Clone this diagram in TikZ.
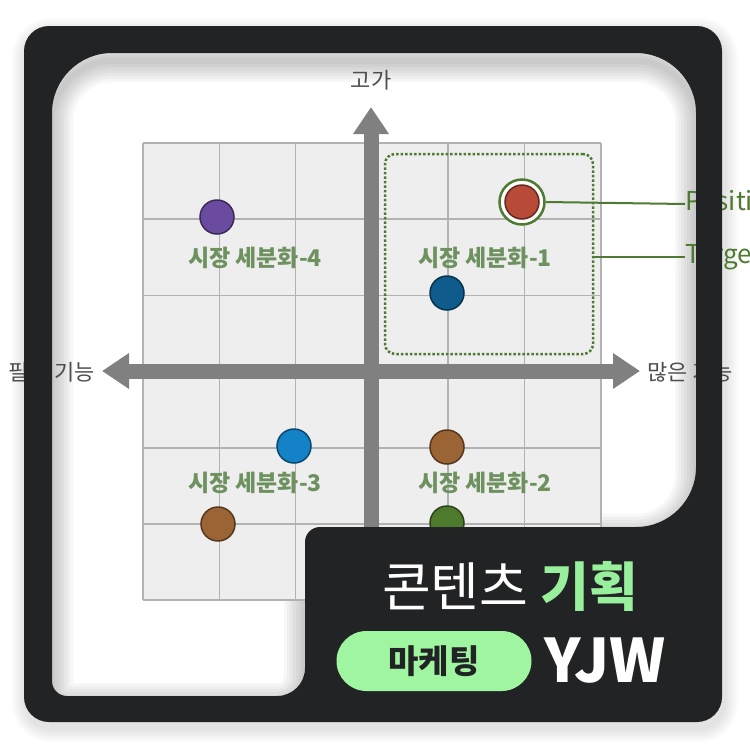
\documentclass[tikz,border=0pt]{standalone}
\usepackage{fontspec}
\newfontfamily\kr{Noto Sans CJK KR}
\usetikzlibrary{arrows.meta}
\usetikzlibrary{positioning}

\definecolor{framedark}{HTML}{222325}
\definecolor{axisgray}{HTML}{808080}
\definecolor{labelgray}{HTML}{4E4E4E}
\definecolor{gridfill}{HTML}{EEEEEE}
\definecolor{gridline}{HTML}{B2B2B2}
\definecolor{seggreen}{HTML}{6E9160}
\definecolor{linegreen}{HTML}{4F7A32}
\definecolor{pillgreen}{HTML}{A0F5A0}
\definecolor{accentgreen}{HTML}{98F09C}
\definecolor{segpurple}{HTML}{6B4BA0}
\definecolor{segred}{HTML}{B84A38}
\definecolor{segnavy}{HTML}{0F5C8C}
\definecolor{segblue}{HTML}{1482C6}
\definecolor{segbrown}{HTML}{9A6434}
\definecolor{segolive}{HTML}{4E7A2E}

% white inside of the card, with the notch for the title badge
\newcommand\cardhole{(52,300) [rounded corners=60pt] -- (52,53) -- (696,53) -- (696,527)
  [rounded corners=15pt] -- (305,527) [rounded corners=28pt] -- (305,696)
  [rounded corners=15pt] -- (52,696) [rounded corners=60pt] -- cycle}

\begin{document}
\begin{tikzpicture}[x=1pt,y=-1pt,
    axis/.style={draw=axisgray,line width=15pt,>={Triangle[width=34pt,length=27pt]}},
    segdot/.style={circle,minimum size=34pt,inner sep=0pt,fill=#1,draw=#1!55!black,line width=1.5pt},
    seglabel/.style={text=seggreen,inner sep=0pt,font=\kr\bfseries\fontsize{23}{23}\selectfont},
    axislabel/.style={text=labelgray,inner sep=0pt,font=\kr\fontsize{22}{22}\selectfont},
    callout/.style={text=linegreen,inner sep=0pt,anchor=west,font=\kr\fontsize{26}{26}\selectfont}]
  \useasboundingbox (0,0) rectangle (750,750);
  \fill[white] (0,0) rectangle (750,750);

  % soft shadow of the card
  \foreach \s in {2,4,...,14}
    \fill[black,opacity=0.015,rounded corners=25pt+\s pt] (24-\s+2,26-\s+6) rectangle (722+\s+2,722+\s+6);
  \fill[white] \cardhole;
  \begin{scope}
    \clip \cardhole;
    \foreach \w in {6,12,...,42}
      \draw[black,opacity=0.03,line width=\w pt,yshift=-8pt] \cardhole;
  \end{scope}

  % grid
  \fill[gridfill] (143,143) rectangle (601,600);
  \foreach \k in {0,...,6} {
    \draw[gridline,line width=1.5pt] (143+76.3*\k,143) -- (143+76.3*\k,600);
    \draw[gridline,line width=1.5pt] (143,143+76.2*\k) -- (601,143+76.2*\k);
  }

  % axes
  \coordinate (up) at (371,107);
  \coordinate (down) at (371,600);
  \coordinate (west) at (102,371);
  \coordinate (east) at (640,371);
  \draw[axis,->] (down) -- (up);
  \draw[axis,<->] (west) -- (east);
  \node[axislabel] (high) at (371,80) {고가};
  \node[axislabel,anchor=east] (few) at (95,372) {필수 기능};
  \node[axislabel,anchor=west] (many) at (647,372) {많은 기능};

  % target segment
  \node[draw=linegreen,dotted,line width=2.5pt,rounded corners=10pt,
        minimum width=208pt,minimum height=200pt] (target) at (489,254) {};

  % segments
  \node[seglabel] (seg1) at (485,258) {시장 세분화-1};
  \node[seglabel] (seg2) at (485,483) {시장 세분화-2};
  \node[seglabel] (seg3) at (255,483) {시장 세분화-3};
  \node[seglabel] (seg4) at (255,258) {시장 세분화-4};

  \node[segdot=segpurple] (p4) at (217,217) {};
  \node[circle,minimum size=45pt,inner sep=0pt,draw=linegreen,line width=2.5pt,fill=white] (ring) at (522,202) {};
  \node[segdot=segred] (p1) at (522,202) {};
  \node[segdot=segnavy] (p1b) at (447,293) {};
  \node[segdot=segblue] (p3) at (294,446) {};
  \node[segdot=segbrown] (p2) at (447,447) {};
  \node[segdot=segbrown] (p3b) at (218,524) {};
  \node[segdot=segolive] (p2b) at (447,523) {};

  % call-outs
  \node[callout] (pos) at (685,204) {Positioning};
  \node[callout] (tgt) at (685,257) {Targeting};
  \draw[linegreen,line width=2pt] (ring.east) -- (pos.west);
  \draw[linegreen,line width=2pt] (target.east |- tgt.west) -- (tgt.west);

  % card frame with title badge
  \fill[framedark,even odd rule,rounded corners=25pt] (24,26) rectangle (722,722) \cardhole;

  \node[text=white,inner sep=0pt,anchor=base,font=\kr\fontsize{53}{53}\selectfont] (title) at (510,606)
    {콘텐츠 {\bfseries\color{accentgreen}기획}};
  \node[fill=pillgreen,rounded corners=30pt,minimum width=195pt,minimum height=60pt,inner sep=0pt,
        text=framedark,font=\kr\bfseries\fontsize{33}{33}\selectfont] (tag) at (434,661) {마케팅};
  \node[right=13pt of tag,inner sep=0pt,text=white,font=\kr\bfseries\fontsize{60}{60}\selectfont] (author) {YJW};
\end{tikzpicture}
\end{document}
